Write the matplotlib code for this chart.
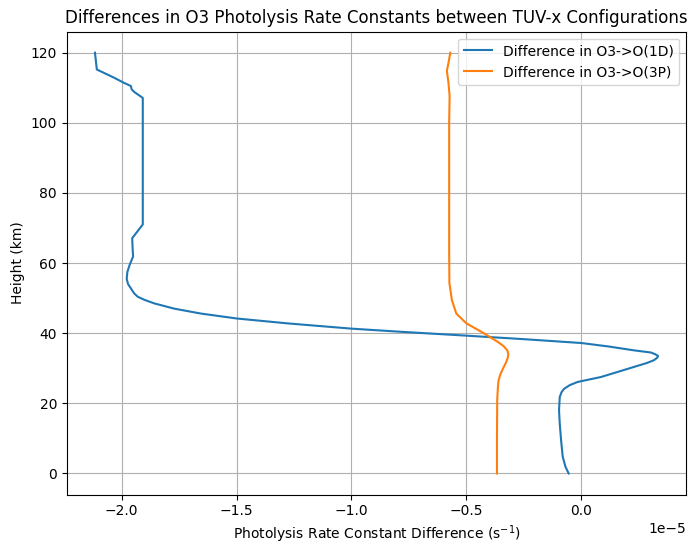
import numpy as np
import matplotlib
matplotlib.use("Agg")
import matplotlib.pyplot as plt

# ==========================================
# Data (x in units of 1e-5 s^-1)
# ==========================================
height_1d = [0, 1.9, 4.8, 9.4, 14.3, 18, 21.8, 23.2, 24.2, 25.2, 26.1, 27.5,
             29, 30.4, 31.5, 32.3, 33.0, 33.5, 34.0, 34.5, 35.1, 36.2, 37.2,
             38.3, 39.3, 40.4, 41.3, 42.8, 44.2, 45.6, 47.0, 48.5, 49.5, 50.4,
             51.4, 52.3, 54, 55.5, 57.5, 59.5, 61.9, 63.8, 67.1, 71,
             80, 90, 100, 107.1, 108.8, 109.5, 110.5, 111.4, 112.9, 115.2, 120]
diff_1d = [-0.055, -0.069, -0.081, -0.088, -0.094, -0.097, -0.094, -0.086,
           -0.074, -0.05, -0.016, 0.085, 0.16, 0.23, 0.285, 0.316, 0.33, 0.334,
           0.322, 0.302, 0.23, 0.12, 0.0, -0.25, -0.5, -0.784, -1.0, -1.278,
           -1.5, -1.655, -1.771, -1.858, -1.9, -1.93, -1.946, -1.955, -1.972,
           -1.978, -1.975, -1.965, -1.95, -1.952, -1.954, -1.908,
           -1.908, -1.908, -1.908, -1.908, -1.945, -1.956, -1.96, -1.99,
           -2.034, -2.108, -2.116]

height_3p = [0, 9.4, 20.9, 24.5, 26.6, 28.3, 29.9, 31.6, 33.2, 34.2, 35.1,
             36.3, 37.5, 39.0, 40.4, 42.8, 45.6, 49.4, 54.3, 63.8, 80, 100,
             107.6, 111.4, 114.8, 117.1, 120]
diff_3p = [-0.367, -0.367, -0.366, -0.363, -0.36, -0.352, -0.341, -0.328,
           -0.319, -0.318, -0.322, -0.338, -0.363, -0.4, -0.435, -0.5,
           -0.544, -0.563, -0.574, -0.575, -0.575, -0.575, -0.573, -0.578,
           -0.585, -0.578, -0.570]

scale = 1e-5

# ==========================================
# Plot
# ==========================================
fig, ax = plt.subplots(figsize=(6.96, 5.55), dpi=100)

ax.plot(np.array(diff_1d) * scale, height_1d, label="Difference in O3->O(1D)")
ax.plot(np.array(diff_3p) * scale, height_3p, label="Difference in O3->O(3P)")

ax.set_title("Differences in O3 Photolysis Rate Constants between TUV-x Configurations")
ax.set_xlabel("Photolysis Rate Constant Difference (s$^{-1}$)")
ax.set_ylabel("Height (km)")
ax.grid(True)
ax.legend(loc="upper right")

fig.subplots_adjust(left=0.096, right=0.986, top=0.943, bottom=0.109)
fig.savefig("out.png")
